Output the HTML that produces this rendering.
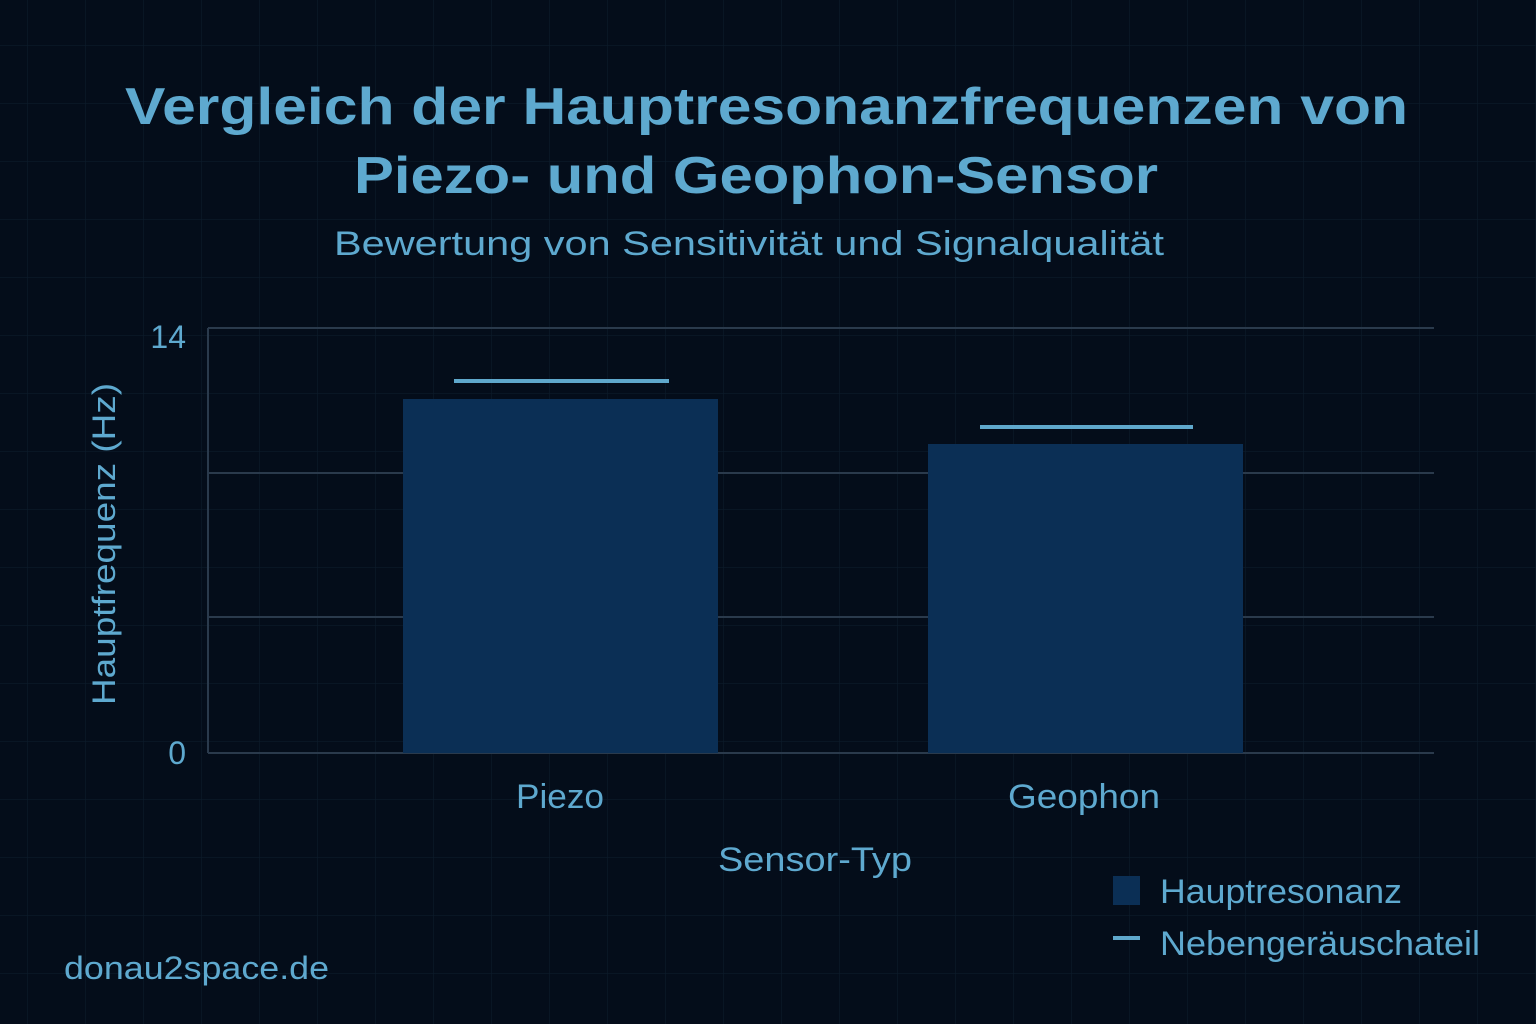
<!DOCTYPE html>
<html><head><meta charset="utf-8"><style>
html,body{margin:0;padding:0;background:#040d1a;}
svg{display:block;font-family:"Liberation Sans","DejaVu Sans",sans-serif;}
</style></head><body>
<svg width="1536" height="1024" viewBox="0 0 1536 1024" xmlns="http://www.w3.org/2000/svg">
<defs>
<pattern id="g" width="58" height="58" patternUnits="userSpaceOnUse" x="27" y="45">
<path d="M0 0H58M0 0V58" stroke="#0c1b2b" stroke-width="1.2" fill="none"/>
</pattern>
</defs>
<rect width="1536" height="1024" fill="#040d1a"/>
<rect width="1536" height="1024" fill="url(#g)"/>
<g fill="#5ea9cf">
<text x="125" y="124" font-size="52" font-weight="bold" textLength="1283" lengthAdjust="spacingAndGlyphs">Vergleich der Hauptresonanzfrequenzen von</text>
<text x="354" y="193" font-size="52" font-weight="bold" textLength="804" lengthAdjust="spacingAndGlyphs">Piezo- und Geophon-Sensor</text>
<text x="334" y="255" font-size="34" textLength="830" lengthAdjust="spacingAndGlyphs">Bewertung von Sensitivität und Signalqualität</text>
<text x="186" y="348" font-size="32" text-anchor="end">14</text>
<text x="186" y="764" font-size="32" text-anchor="end">0</text>
<text transform="translate(115 705) rotate(-90)" font-size="32" textLength="322" lengthAdjust="spacingAndGlyphs">Hauptfrequenz (Hz)</text>
<text x="516" y="808" font-size="34" textLength="88" lengthAdjust="spacingAndGlyphs">Piezo</text>
<text x="1008" y="808" font-size="34" textLength="152" lengthAdjust="spacingAndGlyphs">Geophon</text>
<text x="718" y="871" font-size="34" textLength="194" lengthAdjust="spacingAndGlyphs">Sensor-Typ</text>
<text x="1160" y="903" font-size="34" textLength="242" lengthAdjust="spacingAndGlyphs">Hauptresonanz</text>
<text x="1160" y="955" font-size="34" textLength="320" lengthAdjust="spacingAndGlyphs">Nebengeräuschateil</text>
<text x="64" y="979" font-size="32" textLength="265" lengthAdjust="spacingAndGlyphs">donau2space.de</text>
</g>
<g stroke="#2a3a4c" stroke-width="2">
<line x1="208" y1="328" x2="1434" y2="328"/>
<line x1="208" y1="473" x2="1434" y2="473"/>
<line x1="208" y1="617" x2="1434" y2="617"/>
<line x1="208" y1="753" x2="1434" y2="753"/>
<line x1="208" y1="328" x2="208" y2="753"/>
</g>
<rect x="403" y="399" width="315" height="354" fill="#0b2f55"/>
<rect x="928" y="444" width="315" height="309" fill="#0b2f55"/>
<g stroke="#5fa8cc" stroke-width="4">
<line x1="454" y1="381" x2="669" y2="381"/>
<line x1="980" y1="427" x2="1193" y2="427"/>
<line x1="1113" y1="938" x2="1140" y2="938"/>
</g>
<rect x="1113" y="876" width="27" height="29" fill="#0b2f55"/>
</svg>
</body></html>
